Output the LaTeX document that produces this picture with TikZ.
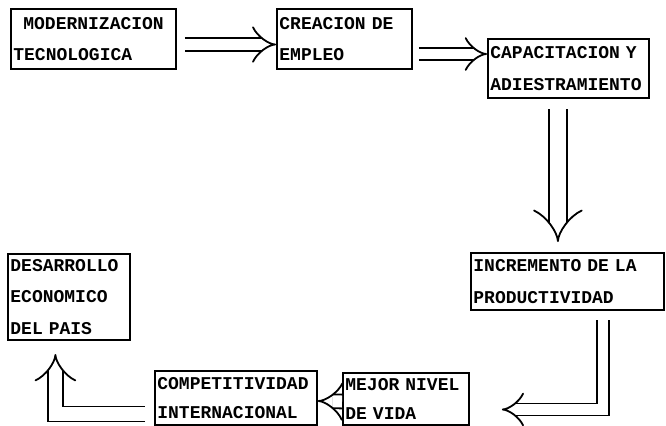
\documentclass[tikz,border=0pt]{standalone}
\usepackage{fontspec}
\newfontfamily\maquina{Liberation Mono}
\usetikzlibrary{arrows.meta}

\tikzset{
  caja/.style={draw, line width=1pt, anchor=north west, inner xsep=1.2pt,
    inner ysep=0pt, align=left, font={\maquina\bfseries\fontsize{9}{15.75}\selectfont}},
  doble/.style={draw, double, double distance=#1, line width=0.9pt, -{Implies}},
  doble/.default=5pt
}

\begin{document}
\begin{tikzpicture}[x=0.5pt, y=-0.5pt]
  \useasboundingbox (0,0) rectangle (666,425);

  % cajas
  \node[caja, minimum height=30pt, text width=80pt] (mod) at (10,8)
    {\hspace*{5pt}MODERNIZACION\\TECNOLOGICA};
  \node[caja, minimum height=30pt, text width=65pt] (emp) at (276,8)
    {CREACION DE\\EMPLEO};
  \node[caja, minimum height=29.5pt, text width=78pt] (cap) at (487,38)
    {CAPACITACION Y\\ADIESTRAMIENTO};
  \node[caja, minimum height=28.5pt, text width=94pt] (inc) at (470,252)
    {INCREMENTO DE LA\\PRODUCTIVIDAD};
  \node[caja, minimum height=26pt, text width=60.5pt,
    font={\maquina\bfseries\fontsize{9}{14.5}\selectfont}] (mej) at (342,372)
    {MEJOR NIVEL\\DE VIDA};
  \node[caja, minimum height=27pt, text width=78.5pt,
    font={\maquina\bfseries\fontsize{9}{14.5}\selectfont}] (com) at (154,370)
    {COMPETITIVIDAD\\INTERNACIONAL};
  \node[caja, minimum height=43pt, text width=58.5pt] (des) at (7,253)
    {DESARROLLO\\ECONOMICO\\DEL PAIS};

  % flechas
  \draw[doble=5.6pt] ([xshift=4pt,yshift=-2.75pt]mod.east) -- ([yshift=-2.75pt]emp.west);
  \draw[doble=5.1pt] ([xshift=3pt,yshift=-7.5pt]emp.east) -- ([yshift=7.25pt]cap.west);
  \draw[doble=8.1pt, shorten <=5pt, shorten >=5pt]
    ([xshift=-5.25pt]cap.south) -- ([xshift=-4.75pt]inc.north);
  \draw[doble=5.1pt, shorten <=4.5pt]
    ([xshift=17.75pt]inc.south) |- ([xshift=16pt,yshift=-5.25pt]mej.east);
  \draw[doble=6pt] ([yshift=-1.25pt]mej.west) -- ([yshift=-1.5pt]com.east);
  \draw[doble=6.6pt, shorten >=6.5pt]
    ([xshift=-4.5pt,yshift=-8pt]com.west) -| ([xshift=-6.75pt]des.south);
\end{tikzpicture}
\end{document}
